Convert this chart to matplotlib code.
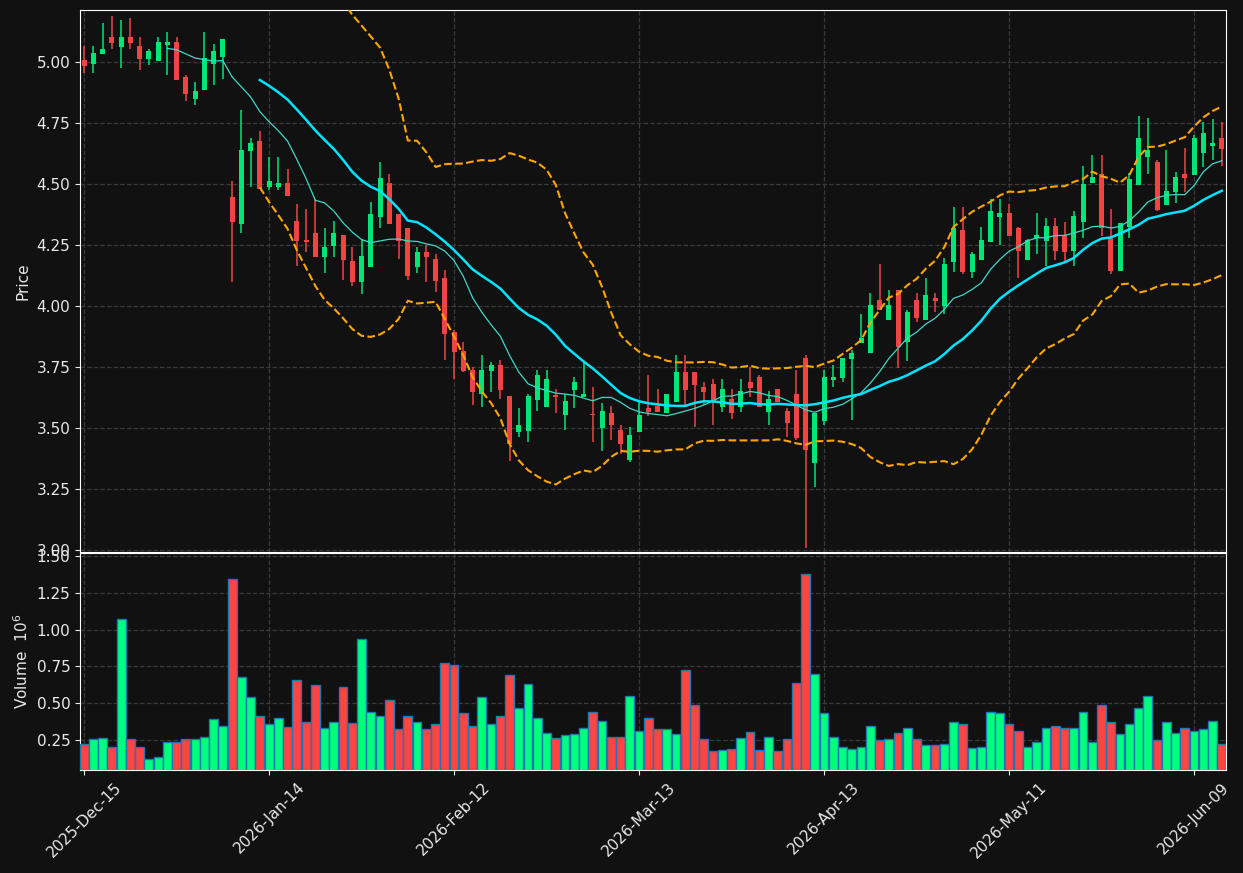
import numpy as np
import pandas as pd
import matplotlib
matplotlib.use('Agg')
import matplotlib.pyplot as plt

# trading days (NYSE holidays removed)
holidays = ['2025-12-25', '2026-01-01', '2026-01-19', '2026-02-16', '2026-04-03', '2026-05-25']
dates = pd.bdate_range('2025-12-15', periods=124, freq='C', holidays=holidays)

opens = [5.008, 4.993, 5.034, 5.102, 5.063, 5.102, 5.065, 5.014, 5.005, 5.071,
         5.082, 4.938, 4.850, 4.887, 4.993, 5.022, 4.447, 4.337, 4.636, 4.676,
         4.489, 4.489, 4.504, 4.348, 4.272, 4.299, 4.202, 4.247, 4.291, 4.184,
         4.096, 4.161, 4.366, 4.504, 4.377, 4.320, 4.161, 4.221, 4.193, 4.115,
         3.892, 3.816, 3.738, 3.639, 3.734, 3.758, 3.631, 3.481, 3.489, 3.616,
         3.587, 3.631, 3.551, 3.657, 3.628, 3.554, 3.501, 3.562, 3.492, 3.369,
         3.481, 3.582, 3.590, 3.559, 3.608, 3.729, 3.729, 3.668, 3.680, 3.586,
         3.619, 3.586, 3.688, 3.709, 3.567, 3.660, 3.570, 3.639, 3.787, 3.354,
         3.530, 3.697, 3.705, 3.783, 3.847, 3.805, 4.025, 3.944, 4.066, 3.854,
         4.025, 3.944, 4.033, 4.001, 4.178, 4.311, 4.141, 4.190, 4.260, 4.366,
         4.381, 4.318, 4.190, 4.277, 4.268, 4.328, 4.290, 4.227, 4.346, 4.505,
         4.541, 4.279, 4.143, 4.325, 4.497, 4.609, 4.590, 4.414, 4.469, 4.541,
         4.538, 4.628, 4.657, 4.687]
highs = [5.065, 5.064, 5.158, 5.188, 5.172, 5.179, 5.101, 5.053, 5.101, 5.121,
         5.101, 4.945, 4.918, 5.121, 5.072, 5.094, 4.511, 4.803, 4.688, 4.716,
         4.609, 4.609, 4.560, 4.417, 4.396, 4.437, 4.318, 4.348, 4.291, 4.240,
         4.276, 4.426, 4.589, 4.541, 4.377, 4.320, 4.240, 4.250, 4.212, 4.146,
         3.900, 3.854, 3.749, 3.798, 3.768, 3.777, 3.631, 3.582, 3.637, 3.738,
         3.738, 3.660, 3.637, 3.708, 3.770, 3.667, 3.601, 3.589, 3.512, 3.504,
         3.608, 3.717, 3.658, 3.639, 3.799, 3.799, 3.729, 3.688, 3.700, 3.700,
         3.660, 3.700, 3.750, 3.717, 3.652, 3.660, 3.582, 3.738, 3.799, 3.561,
         3.738, 3.758, 3.786, 3.820, 3.967, 4.052, 4.171, 4.066, 4.066, 3.982,
         4.052, 4.113, 4.052, 4.198, 4.407, 4.407, 4.221, 4.325, 4.437, 4.437,
         4.417, 4.325, 4.275, 4.380, 4.359, 4.359, 4.346, 4.389, 4.575, 4.617,
         4.617, 4.397, 4.339, 4.546, 4.779, 4.769, 4.598, 4.639, 4.548, 4.646,
         4.701, 4.755, 4.768, 4.755]
lows = [4.953, 4.956, 5.034, 5.052, 4.974, 5.052, 4.966, 4.986, 5.005, 4.945,
        4.927, 4.839, 4.822, 4.887, 4.907, 4.929, 4.097, 4.298, 4.489, 4.479,
        4.474, 4.475, 4.452, 4.164, 4.221, 4.202, 4.134, 4.202, 4.105, 4.083,
        4.048, 4.161, 4.318, 4.337, 4.191, 4.105, 4.134, 4.098, 4.056, 3.777,
        3.700, 3.727, 3.593, 3.585, 3.649, 3.617, 3.363, 3.462, 3.441, 3.568,
        3.587, 3.560, 3.490, 3.581, 3.628, 3.441, 3.404, 3.452, 3.393, 3.362,
        3.481, 3.550, 3.567, 3.559, 3.608, 3.594, 3.503, 3.594, 3.510, 3.567,
        3.538, 3.567, 3.628, 3.586, 3.510, 3.608, 3.464, 3.451, 3.007, 3.257,
        3.510, 3.668, 3.687, 3.533, 3.847, 3.805, 3.984, 3.944, 3.747, 3.776,
        3.932, 3.944, 3.974, 3.967, 4.141, 4.130, 4.113, 4.190, 4.260, 4.249,
        4.288, 4.113, 4.190, 4.212, 4.164, 4.190, 4.183, 4.164, 4.279, 4.505,
        4.288, 4.131, 4.143, 4.279, 4.497, 4.540, 4.389, 4.414, 4.421, 4.469,
        4.538, 4.568, 4.598, 4.575]
closes = [4.985, 5.037, 5.053, 5.079, 5.102, 5.079, 5.014, 5.045, 5.082, 5.082,
          4.927, 4.870, 4.881, 5.015, 5.045, 5.094, 4.346, 4.639, 4.668, 4.479,
          4.511, 4.504, 4.452, 4.268, 4.260, 4.202, 4.242, 4.299, 4.190, 4.096,
          4.205, 4.377, 4.525, 4.337, 4.268, 4.124, 4.221, 4.202, 4.104, 3.883,
          3.813, 3.734, 3.649, 3.738, 3.758, 3.657, 3.432, 3.512, 3.631, 3.717,
          3.701, 3.628, 3.611, 3.688, 3.639, 3.551, 3.570, 3.510, 3.432, 3.471,
          3.553, 3.563, 3.567, 3.639, 3.729, 3.656, 3.676, 3.648, 3.608, 3.660,
          3.559, 3.652, 3.664, 3.586, 3.619, 3.608, 3.518, 3.460, 3.411, 3.561,
          3.709, 3.709, 3.786, 3.807, 3.869, 4.004, 3.984, 4.004, 3.833, 3.974,
          3.952, 4.045, 4.022, 4.172, 4.320, 4.141, 4.213, 4.271, 4.389, 4.381,
          4.288, 4.227, 4.270, 4.290, 4.328, 4.227, 4.219, 4.369, 4.500, 4.527,
          4.318, 4.143, 4.339, 4.519, 4.687, 4.639, 4.393, 4.471, 4.527, 4.526,
          4.687, 4.708, 4.668, 4.645]
# volume in millions
volumes = [0.217, 0.251, 0.258, 0.203, 1.073, 0.255, 0.197, 0.115, 0.133, 0.237,
           0.237, 0.255, 0.251, 0.265, 0.387, 0.346, 1.345, 0.679, 0.543, 0.414,
           0.353, 0.394, 0.339, 0.659, 0.373, 0.625, 0.332, 0.373, 0.611, 0.360,
           0.938, 0.441, 0.414, 0.523, 0.319, 0.414, 0.367, 0.319, 0.353, 0.774,
           0.761, 0.428, 0.346, 0.543, 0.353, 0.414, 0.693, 0.468, 0.632, 0.400,
           0.292, 0.258, 0.278, 0.285, 0.332, 0.441, 0.380, 0.271, 0.271, 0.550,
           0.312, 0.400, 0.319, 0.319, 0.285, 0.727, 0.489, 0.251, 0.169, 0.176,
           0.183, 0.258, 0.305, 0.176, 0.271, 0.169, 0.251, 0.638, 1.379, 0.700,
           0.434, 0.265, 0.201, 0.188, 0.197, 0.346, 0.244, 0.255, 0.292, 0.326,
           0.255, 0.210, 0.210, 0.217, 0.367, 0.353, 0.190, 0.203, 0.441, 0.428,
           0.353, 0.312, 0.197, 0.237, 0.326, 0.346, 0.332, 0.326, 0.441, 0.237,
           0.489, 0.373, 0.285, 0.353, 0.468, 0.550, 0.244, 0.373, 0.298, 0.332,
           0.312, 0.319, 0.380, 0.217]

bg = '#111111'
up_c, down_c = '#00e676', '#f04444'
vol_up, vol_down = '#00ff7f', '#ff4444'
txt = '#e8e8e8'

df = pd.DataFrame({'Open': opens, 'High': highs, 'Low': lows, 'Close': closes,
                   'Volume': volumes}, index=dates)
x = np.arange(len(df))
sma10 = df['Close'].rolling(10).mean()
sma20 = df['Close'].rolling(20).mean()
std20 = df['Close'].rolling(20).std()
bb_up = sma20 + 2 * std20
bb_lo = sma20 - 2 * std20

fig = plt.figure(figsize=(12.43, 8.73), dpi=100, facecolor=bg)
ax1 = fig.add_axes([0.0644, 0.3677, 0.9219, 0.6208])
ax2 = fig.add_axes([0.0644, 0.1180, 0.9219, 0.2485], sharex=ax1)

for ax in (ax1, ax2):
    ax.set_facecolor(bg)
    for s in ax.spines.values():
        s.set_color('white')
    ax.tick_params(colors=txt, labelsize=11)
    ax.grid(True, color='#3a3a3a', linestyle='--', linewidth=0.9)
    ax.set_axisbelow(True)

is_up = df['Close'] >= df['Open']
ccol = np.where(is_up, up_c, down_c)
vcol = np.where(is_up, vol_up, vol_down)

# candles
ax1.vlines(x, df['Low'], df['High'], colors=ccol, linewidth=1.1, zorder=2)
body_lo = np.minimum(df['Open'], df['Close'])
body_h = np.maximum(np.abs(df['Close'] - df['Open']), 0.006)
ax1.bar(x, body_h, bottom=body_lo, width=0.55, color=ccol, linewidth=0, zorder=3)

# overlays
ax1.plot(x, sma10, color='#40d8c8', linewidth=0.9, zorder=4)
ax1.plot(x, sma20, color='#00e5ff', linewidth=1.8, zorder=4)
ax1.plot(x, bb_up, color='#ffa500', linewidth=1.5, linestyle='--', zorder=4)
ax1.plot(x, bb_lo, color='#ffa500', linewidth=1.5, linestyle='--', zorder=4)

ax1.set_ylim(2.991, 5.213)
ax1.set_yticks(np.arange(3.0, 5.01, 0.25))
ax1.yaxis.set_major_formatter(plt.FormatStrFormatter('%.2f'))
ax1.set_ylabel('Price', color=txt, fontsize=11)
ax1.tick_params(axis='x', labelbottom=False, length=0)

# volume
ax2.bar(x, df['Volume'], width=0.95, color=vcol, edgecolor='#1f77b4', linewidth=1.0, zorder=3)
ax2.set_ylim(0.043, 1.521)
ax2.set_yticks(np.arange(0.25, 1.51, 0.25))
ax2.yaxis.set_major_formatter(plt.FormatStrFormatter('%.2f'))
ax2.set_ylabel('Volume  $10^{6}$', color=txt, fontsize=11)

ticks = x[::20]
ax2.set_xticks(ticks)
ax2.set_xticklabels([d.strftime('%Y-%b-%d') for d in dates[::20]], rotation=45, ha='center')
ax2.set_xlim(-0.44, 123.45)

fig.savefig('out.png', dpi=100, facecolor=bg)
